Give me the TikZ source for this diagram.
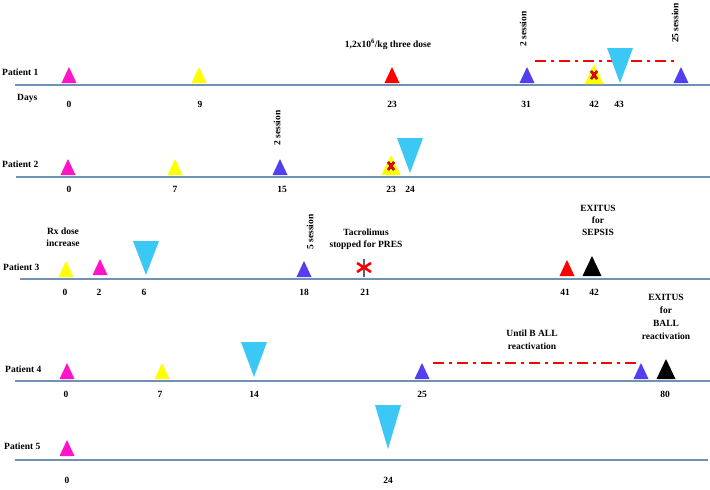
\documentclass[tikz,border=0pt]{standalone}
\usepackage{fontspec}
\setmainfont{Liberation Serif}
\definecolor{magT}{RGB}{255,20,200}
\definecolor{yelT}{RGB}{255,255,0}
\definecolor{redT}{RGB}{255,0,0}
\definecolor{bluT}{RGB}{82,64,240}
\definecolor{cyaT}{RGB}{60,200,245}
\definecolor{lineT}{RGB}{110,145,180}
\definecolor{xdark}{RGB}{120,0,0}
\tikzset{
  txt/.style={font=\fontsize{9.5}{11}\selectfont\bfseries, inner sep=0pt, align=center},
  axis/.style={draw=lineT, line width=1.8pt},
  dashdot/.style={draw=redT, line width=2.4pt, dash pattern=on 11pt off 5pt on 3pt off 5pt},
  pics/uptri/.style={code={\fill[#1] (-7.5,0) -- (7.5,0) -- (0,-16) -- cycle;}},
  pics/bigtri/.style={code={\fill[#1] (-9.5,0) -- (9.5,0) -- (0,-20) -- cycle;}},
  pics/downtri/.style={code={\fill[cyaT] (-13,-#1) -- (13,-#1) -- (0,0) -- cycle;}},
  pics/xmark/.style={code={
    \draw[xdark, line width=2.6pt] (-3,-4) -- (3,4) (-3,4) -- (3,-4);
    \draw[redT, line width=1.5pt] (-3,-4) -- (3,4) (-3,4) -- (3,-4);}},
}
\begin{document}
\begin{tikzpicture}[x=1pt,y=-1pt]
\useasboundingbox (0,0) rectangle (710,490);
\fill[white] (0,0) rectangle (710,490);

% ---------- Patient 1 ----------
\coordinate (p1l) at (15,85); \coordinate (p1r) at (710,85);
\draw[axis] (p1l) -- (p1r);
\node[txt, anchor=west] (n1) at (2,72) {Patient 1};
\node[txt, anchor=west] (days) at (17,98) {Days};
\pic at (69,83) {uptri=magT};
\pic at (199,83) {uptri=yelT};
\pic at (392,83) {uptri=redT};
\pic at (527,83) {uptri=bluT};
\pic at (594,84) {bigtri=yelT};
\pic at (594,75) {xmark};
\pic at (681,83) {uptri=bluT};
\coordinate (d1a) at (535,61); \coordinate (d1b) at (676,61);
\draw[dashdot] (d1a) -- (d1b);
\pic at (620,83) {downtri=35};
\node[txt] (t10) at (69,104) {0};
\node[txt] (t19) at (200,104) {9};
\node[txt] (t123) at (392,104) {23};
\node[txt] (t131) at (526,104) {31};
\node[txt] (t142) at (594,104) {42};
\node[txt] (t143) at (619,104) {43};
\node[txt] (dose) at (388,44) {1,2x10\textsuperscript{6}/kg three dose};
\node[txt, rotate=90] (s1a) at (523,29) {2 session};
\node[txt, rotate=90] (s1b) at (675,23) {25 session};

% ---------- Patient 2 ----------
\coordinate (p2l) at (16,177); \coordinate (p2r) at (710,177);
\draw[axis] (p2l) -- (p2r);
\node[txt, anchor=west] (n2) at (2,164) {Patient 2};
\pic at (68,175) {uptri=magT};
\pic at (175,175) {uptri=yelT};
\pic at (280,175) {uptri=bluT};
\pic at (391,175) {bigtri=yelT};
\pic at (391,166) {xmark};
\pic at (410,173) {downtri=35};
\node[txt] (t20) at (69,189) {0};
\node[txt] (t27) at (175,189) {7};
\node[txt] (t215) at (282,189) {15};
\node[txt] (t223) at (391,189) {23};
\node[txt] (t224) at (410,189) {24};
\node[txt, rotate=90] (s2) at (277,128) {2 session};

% ---------- Patient 3 ----------
\coordinate (p3l) at (20,279); \coordinate (p3r) at (710,279);
\draw[axis] (p3l) -- (p3r);
\node[txt, anchor=west] (n3) at (3,267) {Patient 3};
\pic at (66,277) {uptri=yelT};
\pic at (100,275) {uptri=magT};
\pic at (146,275) {downtri=34};
\pic at (304,277) {uptri=bluT};
\coordinate (st1) at (364,259); \coordinate (st2) at (364,277);
\draw[lineT!70!black, line width=1.6pt] (st1) -- (st2);
\draw[redT, line width=2.6pt] (357,263) -- (371,272) (357,272) -- (371,263);
\pic at (567,276) {uptri=redT};
\pic at (592,276) {bigtri=black};
\node[txt] (t30) at (65,292) {0};
\node[txt] (t32) at (99,292) {2};
\node[txt] (t36) at (144,292) {6};
\node[txt] (t318) at (304,292) {18};
\node[txt] (t321) at (365,292) {21};
\node[txt] (t341) at (565,292) {41};
\node[txt] (t342) at (594,292) {42};
\node[txt] (rx) at (63,237) {Rx dose\\[1pt]increase};
\node[txt] (tac) at (366,239) {Tacrolimus\\[1pt]stopped for PRES};
\node[txt] (ex1) at (598,220) {EXITUS\\[1pt]for\\[1pt]SEPSIS};
\node[txt, rotate=90] (s3) at (310,232) {5 session};

% ---------- Patient 4 ----------
\coordinate (p4l) at (15,381); \coordinate (p4r) at (710,381);
\draw[axis] (p4l) -- (p4r);
\node[txt, anchor=west] (n4) at (5,369) {Patient 4};
\pic at (67,379) {uptri=magT};
\pic at (162,379) {uptri=yelT};
\pic at (254,377) {downtri=35};
\pic at (422,379) {uptri=bluT};
\pic at (641,379) {uptri=bluT};
\pic at (666,379) {bigtri=black};
\coordinate (d4a) at (433,363); \coordinate (d4b) at (637,363);
\draw[dashdot] (d4a) -- (d4b);
\node[txt] (t40) at (66,394) {0};
\node[txt] (t47) at (160,394) {7};
\node[txt] (t414) at (254,394) {14};
\node[txt] (t425) at (422,394) {25};
\node[txt] (t480) at (665,394) {80};
\node[txt] (until) at (532,340) {Until B ALL\\[2pt]reactivation};
\node[txt] (ex2) at (666,317) {EXITUS\\[2pt]for\\[2pt]BALL\\[2pt]reactivation};

% ---------- Patient 5 ----------
\coordinate (p5l) at (15,460); \coordinate (p5r) at (708,460);
\draw[axis] (p5l) -- (p5r);
\node[txt, anchor=west] (n5) at (4,446) {Patient 5};
\pic at (67,456) {uptri=magT};
\pic at (388,449) {downtri=44};
\node[txt] (t50) at (67,480) {0};
\node[txt] (t524) at (388,480) {24};
\end{tikzpicture}
\end{document}
